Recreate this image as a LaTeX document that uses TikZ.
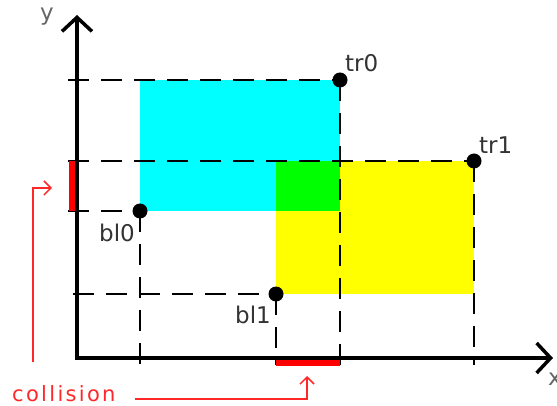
\documentclass[tikz,border=0pt]{standalone}
\usepackage{fontspec}
\setmainfont{DejaVu Sans}
\newfontfamily\collfont[LetterSpace=11]{DejaVu Sans}
\usetikzlibrary{arrows.meta}
\definecolor{rcyan}{RGB}{0,255,255}
\definecolor{ryellow}{RGB}{255,255,0}
\definecolor{rgreen}{RGB}{0,255,0}
\definecolor{rred}{RGB}{255,0,0}
\definecolor{rlred}{RGB}{255,40,40}
\begin{document}
\begin{tikzpicture}[x=1pt,y=-1pt,
  axis/.style={line width=3.5pt,-{Straight Barb[length=14pt,width=30pt,line width=3.5pt]}},
  guide/.style={line width=2pt,dash pattern=on 21pt off 12pt},
  dot/.style={circle,fill=black,inner sep=0pt,minimum size=15pt},
  lbl/.style={text=black!80,font=\fontsize{23}{23}\selectfont,inner sep=0pt},
  redarrow/.style={rlred,line width=1.5pt,-{Straight Barb[length=7pt,width=14pt,line width=1.5pt]}},
  collbar/.style={fill=rred,draw=none}]
\useasboundingbox (0,0) rectangle (557,406);
% rectangles
\fill[rcyan] (140,80) rectangle (340,211);
\fill[ryellow] (276,161) rectangle (474,294);
\fill[rgreen] (276,161) rectangle (340,211);
% points
\coordinate (bl0) at (140,211);
\coordinate (tr0) at (340,80);
\coordinate (bl1) at (276,294);
\coordinate (tr1) at (474,161);
\coordinate (o) at (77,358);
\coordinate (yend) at (77,15);
\coordinate (xend) at (553,358);
% guides
\coordinate (h0) at (68,80);
\coordinate (h1) at (68,161);
\coordinate (h2) at (68,211);
\coordinate (h3) at (73,294);
\coordinate (v0) at (140,365);
\coordinate (v1) at (276,365);
\coordinate (v2) at (340,365);
\coordinate (v3) at (474,365);
\draw[guide] (h0) -- (tr0);
\draw[guide] (h1) -- (tr1);
\draw[guide] (h2) -- (bl0);
\draw[guide] (h3) -- (bl1);
\draw[guide] (bl0) -- (v0);
\draw[guide] (bl1) -- (v1);
\draw[guide] (tr0) -- (v2);
\draw[guide] (tr1) -- (v3);
% collision bars
\fill[collbar] (69,161) rectangle (76,211);
\fill[collbar] (276,359) rectangle (340,366);
% axes
\draw[axis] (o) -- (yend);
\draw[axis] ([xshift=-1.75pt]o) -- (xend);
% dots
\node[dot] (d0) at (bl0) {};
\node[dot] (d1) at (tr0) {};
\node[dot] (d2) at (bl1) {};
\node[dot] (d3) at (tr1) {};
% labels
\node[lbl,anchor=west,text=black!60] (ly) at (40,17) {y};
\node[lbl,anchor=west,text=black!60] (lx) at (548,379) {x};
\node[lbl,anchor=west] (ltr0) at (345,63) {tr0};
\node[lbl,anchor=west] (ltr1) at (479,145) {tr1};
\node[lbl,anchor=west] (lbl0) at (99,233) {bl0};
\node[lbl,anchor=west] (lbl1) at (235,315) {bl1};
\node[lbl,anchor=west,text=rlred,font=\collfont\fontsize{21}{21}\selectfont] (coll) at (12,394) {collision};
% red arrows
\coordinate (a1s) at (33,362);
\coordinate (a1e) at (52,188);
\coordinate (a2s) at (135,399);
\coordinate (a2e) at (307,376);
\draw[redarrow] (a1s) |- (a1e);
\draw[redarrow] (a2s) -| (a2e);
\end{tikzpicture}
\end{document}
